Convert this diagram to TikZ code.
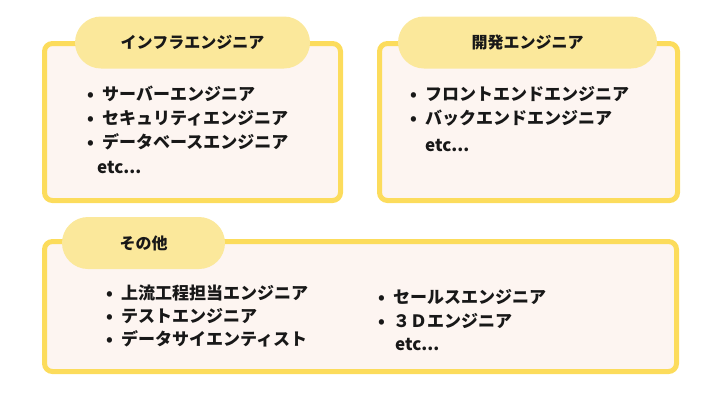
\documentclass[tikz,border=0pt]{standalone}
\usepackage{fontspec}
\setmainfont{Noto Sans CJK JP}
\usepackage{tikz}
\usetikzlibrary{positioning}
\definecolor{frameyellow}{RGB}{252,220,92}
\definecolor{pillyellow}{RGB}{251,232,155}
\definecolor{softpaper}{RGB}{253,245,241}
\definecolor{inkgray}{RGB}{24,24,24}
\newcommand{\bul}[1]{\makebox[15pt][l]{•}#1}
\tikzset{
  groupbox/.style={draw=frameyellow,fill=softpaper,line width=5pt,rounded corners=8pt,
    minimum width=#1,inner sep=0pt,outer sep=0pt,anchor=north west},
  grouptag/.style={fill=pillyellow,rounded corners=26pt,minimum height=52pt,
    minimum width=#1,inner sep=0pt,font=\fontsize{16}{19}\selectfont\bfseries,text=inkgray},
  itemline/.style={anchor=west,inner sep=0pt,font=\fontsize{17}{20}\selectfont\bfseries,text=inkgray}
}
\begin{document}
\begin{tikzpicture}[x=1pt,y=-1pt]
  \useasboundingbox (0,0) rectangle (720,405);
  % boxes
  \node[groupbox=296pt,minimum height=157pt] (infra) at (44.5,43.5) {};
  \node[groupbox=298pt,minimum height=157pt] (dev) at (379.5,43.5) {};
  \node[groupbox=632pt,minimum height=130pt] (other) at (44.5,241.5) {};
  % tags
  \node[grouptag=235pt] (infratag) at (192.5,42.5) {インフラエンジニア};
  \node[grouptag=259pt] (devtag) at (527.5,42.5) {開発エンジニア};
  \node[grouptag=163pt] (othertag) at (143.5,243) {その他};
  % infra items
  \node[itemline] (in1) at (87,94) {\bul{サーバーエンジニア}};
  \node[itemline] (in2) at (87,118) {\bul{セキュリティエンジニア}};
  \node[itemline] (in3) at (87,142) {\bul{データベースエンジニア}};
  \node[itemline] (in4) at (97,167) {etc...};
  % dev items
  \node[itemline] (dv1) at (410,94) {\bul{フロントエンドエンジニア}};
  \node[itemline] (dv2) at (410,118) {\bul{バックエンドエンジニア}};
  \node[itemline] (dv3) at (425,145) {etc...};
  % other items
  \node[itemline] (ot1) at (106,293) {\bul{上流工程担当エンジニア}};
  \node[itemline] (ot2) at (106,316) {\bul{テストエンジニア}};
  \node[itemline] (ot3) at (106,339) {\bul{データサイエンティスト}};
  \node[itemline] (ot4) at (378,297) {\bul{セールスエンジニア}};
  \node[itemline] (ot5) at (378,321) {\bul{３Ｄエンジニア}};
  \node[itemline] (ot6) at (395,344) {etc...};
\end{tikzpicture}
\end{document}
